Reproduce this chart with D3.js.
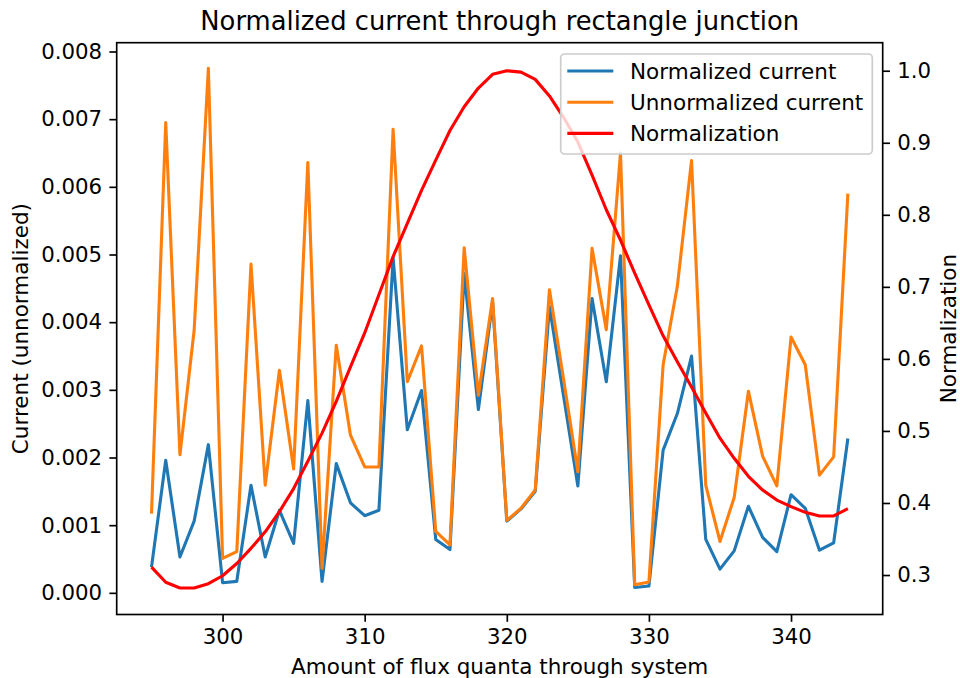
<!DOCTYPE html>
<html>
<head>
<meta charset="utf-8">
<script src="https://cdn.jsdelivr.net/npm/d3@7"></script>
<style>
  body { margin: 0; background: white; }
  svg text { font-family: "DejaVu Sans", sans-serif; fill: black; }
  .axis path { display: none; }
  .axis line { stroke: black; stroke-width: 1.67px; }
  .axis text { font-size: 21.3px; }
</style>
</head>
<body>
<svg id="chart" width="960" height="678"></svg>
<script>
  const flux = [295, 296, 297, 298, 299, 300, 301, 302, 303, 304,
    305, 306, 307, 308, 309, 310, 311, 312, 313, 314,
    315, 316, 317, 318, 319, 320, 321, 322, 323, 324,
    325, 326, 327, 328, 329, 330, 331, 332, 333, 334,
    335, 336, 337, 338, 339, 340, 341, 342, 343, 344];

  const normalizedCurrent = [0.00038, 0.00196, 0.00053, 0.00106, 0.00219, 0.00015, 0.00017, 0.00159, 0.00053, 0.00122,
    0.00073, 0.00284, 0.00017, 0.00191, 0.00133, 0.00114, 0.00122, 0.00495, 0.00241, 0.00299,
    0.00079, 0.00064, 0.00472, 0.00271, 0.00430, 0.00106, 0.00124, 0.00150, 0.00423, 0.00290,
    0.00158, 0.00435, 0.00312, 0.00498, 0.00008, 0.00010, 0.00211, 0.00265, 0.00350, 0.00079,
    0.00035, 0.00062, 0.00128, 0.00082, 0.00061, 0.00145, 0.00125, 0.00063, 0.00074, 0.00228];

  const unnormalizedCurrent = [0.00117, 0.00695, 0.00204, 0.00388, 0.00775, 0.00051, 0.00061, 0.00486, 0.00159, 0.00329,
    0.00183, 0.00636, 0.00036, 0.00366, 0.00233, 0.00186, 0.00186, 0.00685, 0.00312, 0.00365,
    0.00091, 0.00071, 0.00510, 0.00292, 0.00435, 0.00107, 0.00125, 0.00152, 0.00448, 0.00315,
    0.00179, 0.00509, 0.00389, 0.00650, 0.00012, 0.00016, 0.00337, 0.00453, 0.00639, 0.00159,
    0.00076, 0.00141, 0.00298, 0.00202, 0.00158, 0.00378, 0.00337, 0.00174, 0.00201, 0.00590];

  const normalization = [0.311, 0.290, 0.282, 0.282, 0.288, 0.299, 0.316, 0.337, 0.360, 0.388,
    0.420, 0.458, 0.497, 0.541, 0.589, 0.636, 0.689, 0.742, 0.788, 0.834,
    0.876, 0.917, 0.950, 0.976, 0.995, 1.000, 0.998, 0.988, 0.965, 0.935,
    0.901, 0.855, 0.807, 0.765, 0.719, 0.675, 0.632, 0.596, 0.561, 0.525,
    0.490, 0.462, 0.437, 0.418, 0.404, 0.395, 0.387, 0.382, 0.382, 0.392];

  const xTicks = [300, 310, 320, 330, 340];
  const leftTicks = [0, 0.001, 0.002, 0.003, 0.004, 0.005, 0.006, 0.007, 0.008];
  const rightTicks = [0.3, 0.4, 0.5, 0.6, 0.7, 0.8, 0.9, 1.0];

  const seriesNames = ["Normalized current", "Unnormalized current", "Normalization"];
  const seriesColors = ["#1f77b4", "#ff7f0e", "#ff0000"];

  const svg = d3.select("#chart");
  const margin = { top: 42.7, left: 116.7 };
  const w = 766, h = 571.8;
  const fs = 21.5;

  const g = svg.append("g")
    .attr("transform", `translate(${margin.left},${margin.top})`);

  const x = d3.scaleLinear().domain([292.55, 346.45]).range([0, w]);
  const yLeft = d3.scaleLinear().domain([-0.00032, 0.00813]).range([h, 0]);
  const yRight = d3.scaleLinear().domain([0.2452, 1.0389]).range([h, 0]);

  // axes
  g.append("g")
    .attr("class", "axis")
    .attr("transform", `translate(0,${h})`)
    .call(d3.axisBottom(x).tickValues(xTicks).tickFormat(d3.format("d")).tickSize(7.3).tickPadding(7.3));

  g.append("g")
    .attr("class", "axis")
    .call(d3.axisLeft(yLeft).tickValues(leftTicks).tickFormat(d3.format(".3f")).tickSize(7.3).tickPadding(7.3));

  g.append("g")
    .attr("class", "axis")
    .attr("transform", `translate(${w},0)`)
    .call(d3.axisRight(yRight).tickValues(rightTicks).tickFormat(d3.format(".1f")).tickSize(7.3).tickPadding(7.3));

  // lines
  const pts = flux.map((f, i) => ({ f, blue: normalizedCurrent[i], orange: unnormalizedCurrent[i], red: normalization[i] }));

  const lineLeft = key => d3.line().x(d => x(d.f)).y(d => yLeft(d[key]));

  g.append("path")
    .datum(pts)
    .attr("d", lineLeft("blue"))
    .attr("fill", "none")
    .attr("stroke", seriesColors[0])
    .attr("stroke-width", 3.1)
    .attr("stroke-linejoin", "round");

  g.append("path")
    .datum(pts)
    .attr("d", lineLeft("orange"))
    .attr("fill", "none")
    .attr("stroke", seriesColors[1])
    .attr("stroke-width", 3.1)
    .attr("stroke-linejoin", "round");

  g.append("path")
    .datum(pts)
    .attr("d", d3.line().x(d => x(d.f)).y(d => yRight(d.red)))
    .attr("fill", "none")
    .attr("stroke", seriesColors[2])
    .attr("stroke-width", 3.1)
    .attr("stroke-linejoin", "round");

  // frame
  g.append("rect")
    .attr("width", w)
    .attr("height", h)
    .attr("fill", "none")
    .attr("stroke", "black")
    .attr("stroke-width", 1.67);

  // legend
  const leg = g.append("g").attr("transform", `translate(${560.7 - margin.left},${54 - margin.top})`);
  leg.append("rect")
    .attr("width", 311.6)
    .attr("height", 100)
    .attr("rx", 4)
    .attr("fill", "white")
    .attr("fill-opacity", 0.8)
    .attr("stroke", "#cccccc")
    .attr("stroke-width", 1.67);

  seriesNames.forEach((name, i) => {
    const ly = 17 + i * 31.2;
    leg.append("line")
      .attr("x1", 6.6).attr("x2", 52.6)
      .attr("y1", ly).attr("y2", ly)
      .attr("stroke", seriesColors[i])
      .attr("stroke-width", 3.1);
    leg.append("text")
      .attr("x", 69.3)
      .attr("y", ly)
      .attr("dy", "0.36em")
      .style("font-size", fs + "px")
      .text(name);
  });

  // titles
  svg.append("text")
    .attr("x", margin.left + w / 2)
    .attr("y", 30.2)
    .attr("text-anchor", "middle")
    .style("font-size", "25.8px")
    .text("Normalized current through rectangle junction");

  svg.append("text")
    .attr("x", margin.left + w / 2)
    .attr("y", 674)
    .attr("text-anchor", "middle")
    .style("font-size", fs + "px")
    .text("Amount of flux quanta through system");

  svg.append("text")
    .attr("transform", `translate(28,${margin.top + h / 2}) rotate(-90)`)
    .attr("text-anchor", "middle")
    .style("font-size", fs + "px")
    .text("Current (unnormalized)");

  svg.append("text")
    .attr("transform", `translate(956,${margin.top + h / 2}) rotate(-90)`)
    .attr("text-anchor", "middle")
    .style("font-size", fs + "px")
    .text("Normalization");
</script>
</body>
</html>
